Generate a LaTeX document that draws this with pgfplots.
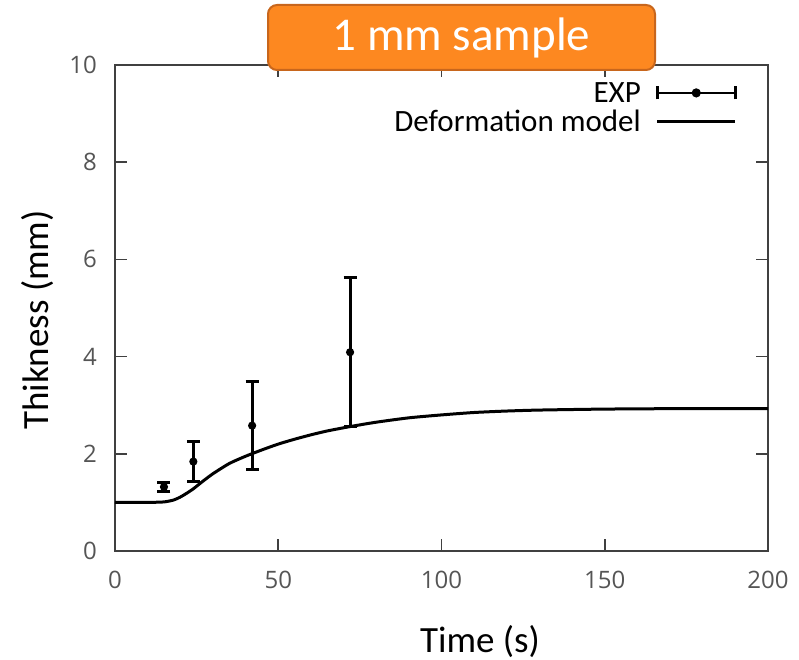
\documentclass[border=0pt]{standalone}
\usepackage{pgfplots}
\pgfplotsset{compat=1.18}
\usepackage{pgfplotstable}
\usepackage{fontspec}
\setmainfont{Carlito}
\newfontfamily\tickfont{Open Sans}
\definecolor{axgray}{HTML}{404040}
\definecolor{tickgray}{HTML}{555555}
\definecolor{boxorange}{HTML}{FD8820}
\definecolor{boxedge}{HTML}{C8661C}

\pgfplotstableread{
x y e
15 1.32 0.09
24 1.84 0.42
42 2.58 0.90
72 4.09 1.53
}\expdata

\begin{document}
\begin{tikzpicture}
\begin{axis}[
  at={(0,0)}, anchor=south west,
  scale only axis, width=653pt, height=486pt,
  xmin=0, xmax=200, ymin=0, ymax=10,
  xtick={0,50,100,150,200}, ytick={0,2,4,6,8,10},
  tick pos=both, tick align=inside, major tick length=12pt,
  axis line style={axgray, line width=1.6pt},
  tick style={axgray, line width=1.6pt},
  /pgf/number format/assume math mode=true,
  ticklabel style={font=\tickfont\fontsize{24}{28}\selectfont, text=tickgray, inner sep=0pt},
  xticklabel style={anchor=north, yshift=-20pt},
  yticklabel style={anchor=east, xshift=-18pt},
  xlabel={Time (s)}, ylabel={Thikness (mm)},
  label style={font=\fontsize{37}{44}\selectfont},
  xlabel style={at={(axis description cs:0.559,-0.208)}, anchor=base, inner sep=0pt},
  ylabel style={at={(axis description cs:-0.102,0.475)}, anchor=base, inner sep=0pt},
  legend plot pos=right, legend cell align=right,
  legend style={at={(axis description cs:0.9525,0.965)}, anchor=north east,
    draw=none, fill=none, inner sep=0pt, row sep=6pt, column sep=15pt,
    font=\fontsize{31}{37}\selectfont, nodes={inner sep=0pt}},
]
\addplot[black, line width=3pt, only marks, mark=*, mark size=2.5pt,
  legend image code/.code={
    \draw[black, line width=2.5pt] (0pt,0pt) -- (78pt,0pt);
    \draw[black, line width=2.5pt] (0pt,-6.5pt) -- (0pt,6.5pt);
    \draw[black, line width=2.5pt] (78pt,-6.5pt) -- (78pt,6.5pt);
    \fill[black] (39pt,0pt) circle (3pt);},
  error bars/.cd, y dir=both, y explicit,
  error bar style={line width=3pt, black},
  error mark options={rotate=90, mark size=6.5pt, line width=3pt, black}]
  table[x=x, y=y, y error=e] {\expdata};
\addlegendentry{EXP}
\addplot[black, line width=3pt, smooth, tension=0.4,
  legend image code/.code={\draw[black, line width=3pt] (0pt,0pt) -- (78pt,0pt);}]
  coordinates {
(0,1.0) (10,1.0) (15,1.01) (18,1.05) (20,1.11) (22,1.19) (24,1.28) (27,1.44)
(30,1.59) (35,1.8) (40,1.95) (45,2.08) (50,2.2) (55,2.3) (60,2.39) (65,2.47)
(72,2.56) (80,2.65) (90,2.74) (100,2.8) (110,2.85) (120,2.88) (130,2.9)
(150,2.92) (175,2.93) (200,2.93)};
\addlegendentry{Deformation model}
\end{axis}
\node[fill=boxorange, draw=boxedge, line width=2pt, rounded corners=9pt,
  minimum width=387pt, minimum height=65pt, inner sep=0pt, text=white,
  font=\fontsize{47}{56}\selectfont] at (346.5pt,513.5pt) {1 mm sample};
\pgfresetboundingbox
\path[use as bounding box] (-115pt,-109pt) rectangle (684pt,551pt);
\end{tikzpicture}
\end{document}
